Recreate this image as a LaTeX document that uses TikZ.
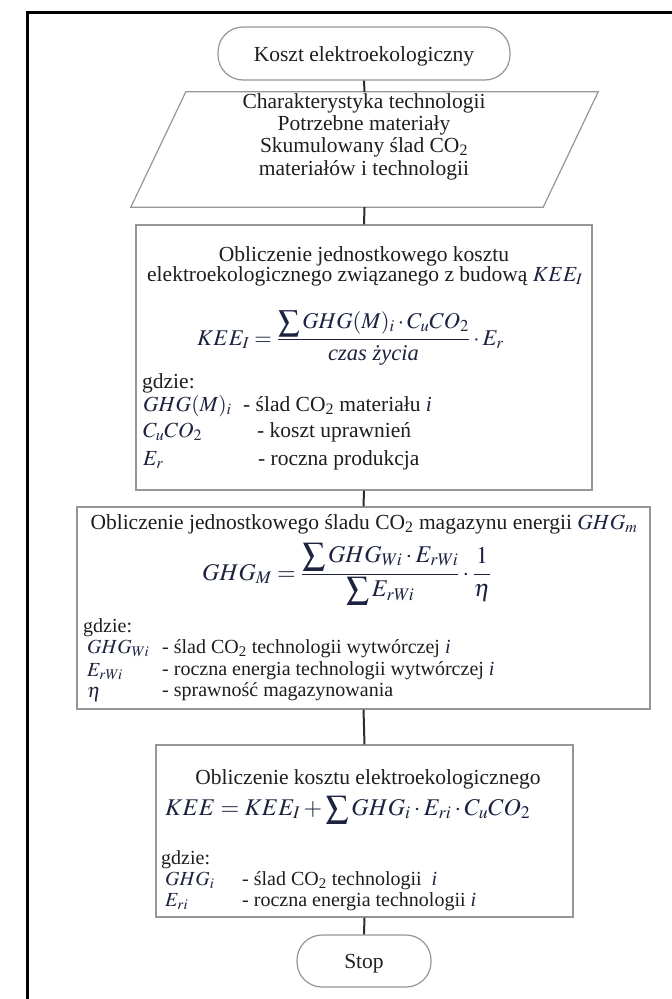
\documentclass[tikz,border=0pt]{standalone}
\usepackage{amsmath}
\usepackage{mathptmx}
\usepackage[no-math]{fontspec}
\setmainfont{Liberation Serif}
\definecolor{txtcol}{RGB}{30,30,30}
\definecolor{mathcol}{RGB}{28,34,64}
\definecolor{boxgray}{RGB}{150,150,150}
\definecolor{conncol}{RGB}{45,45,45}
\newcommand{\bsum}{\mathop{\raisebox{-0.25ex}{\scalebox{1.35}{$\sum$}}}\nolimits}
\tikzset{
  box/.style={draw=boxgray, line width=1.2pt, fill=white, inner sep=0pt},
  term/.style={box, rounded corners=25pt, text=txtcol},
  conn/.style={draw=conncol, line width=2pt},
  txt/.style={anchor=base, inner sep=0pt, text=txtcol},
  lbl/.style={anchor=base west, inner sep=0pt, text=txtcol},
  sym/.style={anchor=base west, inner sep=0pt, text=mathcol},
  small/.style={font=\fontsize{20}{21}\selectfont},
  formula/.style={sym, font=\fontsize{22.5}{25}\selectfont},
  slant/.style={draw=boxgray, line width=1.2pt},
}
\begin{document}
\begin{tikzpicture}[x=1pt, y=-1pt, font=\fontsize{21.5}{22}\selectfont]
\useasboundingbox (0,0) rectangle (672,999);
% outer frame (partially visible)
\draw[line width=3pt, black] (672,12) -- (27.5,12) -- (27.5,999);

% shapes
\node[term, minimum width=292pt, minimum height=53pt] (start) at (364,53.5) {};
\node[inner sep=0pt, minimum width=412pt, minimum height=115pt] (input) at (364.5,149.5) {};
\draw[slant] ([xshift=27.5pt]input.north west) -- ([xshift=27.5pt]input.north east)
  -- ([xshift=-27.5pt]input.south east) -- ([xshift=-27.5pt]input.south west) -- cycle;
\node[box, minimum width=456pt, minimum height=265pt] (calc1) at (364,357.5) {};
\node[box, minimum width=573pt, minimum height=202pt] (calc2) at (363.5,608) {};
\node[box, minimum width=417pt, minimum height=172pt] (calc3) at (364.5,831) {};
\node[term, minimum width=134pt, minimum height=52pt] (stop) at (364,961) {};

% connectors
\draw[conn] (start.south) -- (input.north);
\draw[conn] (input.south) -- (calc1.north);
\draw[conn] (calc1.south) -- (calc2.north);
\draw[conn] (calc2.south) -- (calc3.north);
\draw[conn] (calc3.south) -- (stop.north);

% start text
\node[txt] (starttxt) at (364,61) {Koszt elektroekologiczny};

% input text
\node[txt] (in1) at (364,108) {Charakterystyka technologii};
\node[txt] (in2) at (364,130) {Potrzebne materiały};
\node[txt] (in3) at (364,152) {Skumulowany ślad CO\textsubscript{2}};
\node[txt] (in4) at (364,175) {materiałów i technologii};

% box 1
\node[txt] (c1t1) at (364,261) {Obliczenie jednostkowego kosztu};
\node[txt] (c1t2) at (365,281) {elektroekologicznego związanego z budową \textcolor{mathcol}{$KEE_I$}};
\node[formula] (c1f) at (197,345) {$KEE_I=\dfrac{\bsum GHG(M)_i\cdot C_uCO_2}{\mbox{\itshape czas życia}}\cdot E_r$};
\node[lbl] (c1g) at (142,388) {gdzie:};
\node[sym] (c1s1) at (143,411) {$GHG(M)_i$};
\node[lbl] (c1d1) at (243,411) {- ślad CO\textsubscript{2} materiału \textcolor{mathcol}{\itshape i}};
\node[sym] (c1s2) at (143,437) {$C_uCO_2$};
\node[lbl] (c1d2) at (257,437) {- koszt uprawnień};
\node[sym] (c1s3) at (143,465) {$E_r$};
\node[lbl] (c1d3) at (258,465) {- roczna produkcja};

% box 2
\node[txt] (c2t1) at (364,529) {Obliczenie jednostkowego śladu CO\textsubscript{2} magazynu energii \textcolor{mathcol}{$GHG_m$}};
\node[formula, font=\fontsize{24}{26}\selectfont] (c2f) at (202,580) {$GHG_M=\dfrac{\bsum GHG_{Wi}\cdot E_{rWi}}{\bsum E_{rWi}}\cdot\dfrac{1}{\eta}$};
\node[lbl, small] (c2g) at (83,632) {gdzie:};
\node[sym, small] (c2s1) at (87,653) {$GHG_{Wi}$};
\node[lbl, small] (c2d1) at (162,653) {- ślad CO\textsubscript{2} technologii wytwórczej \textcolor{mathcol}{\itshape i}};
\node[sym, small] (c2s2) at (87,676) {$E_{rWi}$};
\node[lbl, small] (c2d2) at (162,675) {- roczna energia technologii wytwórczej \textcolor{mathcol}{\itshape i}};
\node[sym, small] (c2s3) at (87,697) {$\eta$};
\node[lbl, small] (c2d3) at (162,696) {- sprawność magazynowania};

% box 3
\node[txt] (c3t1) at (368,784) {Obliczenie kosztu elektroekologicznego};
\node[formula, font=\fontsize{24}{26}\selectfont] (c3f) at (165,815) {$KEE=KEE_I+\bsum GHG_i\cdot E_{ri}\cdot C_uCO_2$};
\node[lbl, small] (c3g) at (161,864) {gdzie:};
\node[sym, small] (c3s1) at (165,885) {$GHG_i$};
\node[lbl, small] (c3d1) at (242,885) {- ślad CO\textsubscript{2} technologii\ \ \textcolor{mathcol}{\itshape i}};
\node[sym, small] (c3s2) at (165,906) {$E_{ri}$};
\node[lbl, small] (c3d2) at (242,906) {- roczna energia technologii \textcolor{mathcol}{\itshape i}};

% stop text
\node[txt] (stoptxt) at (364,968) {Stop};
\end{tikzpicture}
\end{document}
